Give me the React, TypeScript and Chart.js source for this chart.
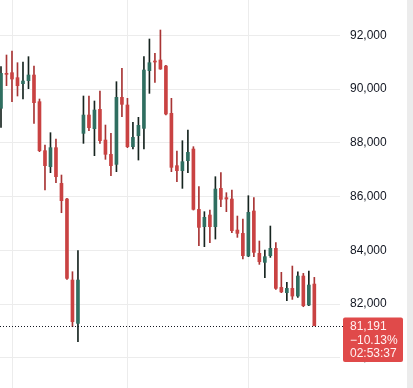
import React, { useEffect, useRef } from "react";
import { Chart, registerables } from "chart.js";

Chart.register(...registerables);

// OHLC values (oldest to newest)
const opens = [
  89282, 90584, 90609, 90423, 90200, 90311, 90522, 89530, 87706, 87111,
  87818, 86490, 85907, 82892, 81279, 88351, 89033, 88525, 89244, 88103,
  87570, 87197, 89691, 89406, 87855, 88264, 88537, 90684, 91043, 91081,
  90857, 89096, 87148, 86962, 87334, 87768, 85522, 84877, 85311, 84877,
  86304, 85957, 85907, 84753, 84629, 83786, 85461, 83885, 83550, 83798,
  84071, 82619, 82421, 82582, 82296, 83041, 81962, 82743,
];
const highs = [
  90832, 91267, 91416, 90981, 91006, 91205, 90857, 89629, 87917, 88376,
  88140, 86800, 85932, 83202, 83984, 89741, 89741, 89555, 89927, 88661,
  88351, 90274, 90770, 89654, 88761, 88947, 91205, 91862, 91329, 92197,
  90880, 89654, 87694, 88078, 88475, 87855, 86366, 85436, 85497, 86738,
  86887, 86143, 86242, 85274, 85162, 86031, 85957, 84344, 84009, 84902,
  84282, 83178, 82805, 83413, 83202, 83140, 83227, 82991,
];
const lows = [
  88574, 90125, 89530, 89741, 89629, 90014, 88723, 87669, 86242, 86887,
  86515, 85398, 82917, 81155, 80600, 87979, 88450, 87520, 87979, 87384,
  86775, 86924, 88971, 87818, 87768, 87358, 87768, 89840, 90249, 90733,
  89033, 86924, 86552, 86304, 86887, 85497, 84170, 84133, 84282, 84418,
  85621, 85436, 84654, 84480, 83674, 83761, 83761, 83475, 82979, 83736,
  82545, 82421, 82123, 82172, 82247, 81899, 81937, 81191,
];
const closes = [
  90584, 90547, 90373, 90125, 90299, 90522, 89493, 87706, 87148, 87818,
  86738, 85845, 82954, 81341, 82892, 89033, 88562, 89220, 88078, 87570,
  87148, 89691, 89431, 87855, 88202, 88649, 90708, 90981, 91006, 90745,
  89071, 87086, 86962, 87297, 87644, 85522, 84852, 85225, 84877, 86279,
  85895, 85907, 84728, 84629, 83798, 85411, 83922, 83574, 83761, 84071,
  82582, 82450, 82582, 82296, 83041, 81937, 82706, 81191,
];

const yTicks = [80000, 82000, 84000, 86000, 88000, 90000, 92000];
const xGridIndex = [2.13, 23, 45.06];
const lastPriceLabel = "81,191";
const changeLabel = "\u221210.13%";
const timerLabel = "02:53:37";

const UP = "#2f6e60";
const DOWN = "#c94242";
const UP_WICK = "#16241f";
const DOWN_WICK = "#a83434";
const GRID = "#ececec";
const FONT = "'Liberation Sans', Arial, sans-serif";

export default function App() {
  const ref = useRef<HTMLCanvasElement | null>(null);

  useEffect(() => {
    if (!ref.current) return;
    const isUp = (i: number) => closes[i] >= opens[i];
    const lastClose = closes[closes.length - 1];

    const overlay = {
      id: "overlay",
      afterDatasetsDraw(chart: any) {
        const ctx = chart.ctx;
        const y = Math.round(chart.scales.y.getPixelForValue(lastClose)) + 0.5;
        const boxL = 343;
        ctx.save();
        ctx.strokeStyle = "#131722";
        ctx.lineWidth = 1;
        ctx.setLineDash([1, 2]);
        ctx.beginPath();
        ctx.moveTo(0, y);
        ctx.lineTo(boxL, y);
        ctx.stroke();
        ctx.setLineDash([]);
        // price label box
        const top = y - 9;
        const h = 44.5;
        const w = 60;
        ctx.fillStyle = "#e04a4a";
        ctx.beginPath();
        (ctx as any).roundRect(boxL, top, w, h, 2);
        ctx.fill();
        ctx.fillStyle = "#fff2f2";
        ctx.font = "12px " + FONT;
        ctx.textBaseline = "middle";
        ctx.textAlign = "left";
        ctx.fillText(lastPriceLabel, 350, y);
        ctx.fillText(changeLabel, 350, y + 13.8);
        ctx.fillText(timerLabel, 350, y + 27.4);
        // right edge strip
        ctx.fillStyle = "#ececec";
        ctx.fillRect(407, 0, 6, chart.height);
        ctx.restore();
      },
    };

    const chart = new Chart(ref.current, {
      type: "bar",
      data: {
        datasets: [
          {
            label: "wick",
            data: lows.map((l, i) => ({ x: i, y: [l, highs[i]] })) as any,
            backgroundColor: lows.map((_, i) => (isUp(i) ? UP_WICK : DOWN_WICK)),
            barThickness: 1,
            grouped: false,
            order: 2,
          },
          {
            label: "body",
            data: opens.map((o, i) => ({ x: i, y: [o, closes[i]] })) as any,
            backgroundColor: opens.map((_, i) => (isUp(i) ? UP : DOWN)),
            barThickness: 3,
            minBarLength: 1,
            grouped: false,
            order: 1,
          },
        ],
      },
      options: {
        responsive: false,
        animation: false,
        layout: { padding: 0 },
        plugins: { legend: { display: false }, tooltip: { enabled: false } },
        scales: {
          x: {
            type: "linear",
            min: -0.182,
            max: 61.67,
            offset: false,
            grid: { offset: false, color: GRID, drawTicks: false },
            border: { display: false },
            ticks: { display: false },
            afterBuildTicks: (s: any) => {
              s.ticks = xGridIndex.map((v) => ({ value: v }));
            },
            afterFit: (s: any) => {
              s.height = 0;
              s.paddingLeft = 0;
              s.paddingRight = 0;
            },
          },
          y: {
            position: "right",
            min: 78874,
            max: 93314,
            grid: { color: GRID, drawTicks: false },
            border: { display: false },
            ticks: {
              padding: 10,
              color: "#131722",
              font: { size: 12, family: FONT },
              callback: (v: any) => Number(v).toLocaleString("en-US"),
            },
            afterBuildTicks: (s: any) => {
              s.ticks = yTicks.map((v) => ({ value: v }));
            },
            afterFit: (s: any) => {
              s.width = 73;
              s.paddingTop = 0;
              s.paddingBottom = 0;
            },
          },
        },
      } as any,
      plugins: [overlay],
    });
    return () => chart.destroy();
  }, []);

  return (
    <div style={{ position: "fixed", left: 0, top: 0, width: 413, height: 388, background: "#fff" }}>
      <canvas ref={ref} width={413} height={388} style={{ display: "block" }} />
    </div>
  );
}
